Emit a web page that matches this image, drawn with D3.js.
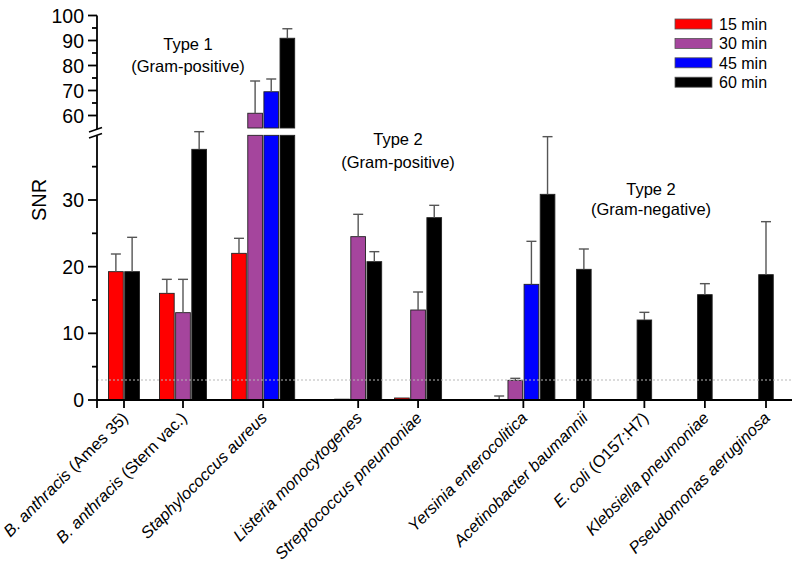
<!DOCTYPE html>
<html>
<head>
<meta charset="utf-8">
<script src="https://cdn.jsdelivr.net/npm/d3@7"></script>
<style>
  html, body { margin: 0; padding: 0; background: #fff; }
  svg { display: block; font-family: "Liberation Sans", Arial, sans-serif; }
</style>
</head>
<body>
<svg id="chart" width="800" height="569"></svg>
<script>
// ---------------- DATA ----------------
const categories = [
  "B. anthracis (Ames 35)", "B. anthracis (Stern vac.)", "Staphylococcus aureus",
  "Listeria monocytogenes", "Streptococcus pneumoniae",
  "Yersinia enterocolitica", "Acetinobacter baumannii", "E. coli (O157:H7)",
  "Klebsiella pneumoniae", "Pseudomonas aeruginosa"
];
const seriesNames = ["15 min", "30 min", "45 min", "60 min"];
const values15 = [19.25, 16.0, 22.0, 0.12, 0.3, 0.05, null, null, null, null];
const values30 = [null, 13.1, 60.9, 24.5, 13.5, 2.95, null, null, null, null];
const values45 = [null, null, 69.5, null, null, 17.35, null, null, null, null];
const values60 = [19.25, 37.6, 90.9, 20.75, 27.35, 30.85, 19.6, 12.0, 15.8, 18.8];
const errors15 = [2.65, 2.1, 2.25, 0, 0, 0.55, null, null, null, null];
const errors30 = [null, 5.0, 12.9, 3.35, 2.7, 0.3, null, null, null, null];
const errors45 = [null, null, 5.1, null, null, 6.45, null, null, null, null];
const errors60 = [5.15, 2.65, 3.8, 1.5, 1.85, 8.65, 3.05, 1.15, 1.65, 7.95];
const lowerTicks = [0, 10, 20, 30];
const lowerMinorTicks = [5, 15, 25, 35];
const upperTicks = [60, 70, 80, 90, 100];
const upperMinorTicks = [65, 75, 85, 95];
const threshold = 3;
const groupLabels = [
  { title: "Type 1", sub: "(Gram-positive)" },
  { title: "Type 2", sub: "(Gram-positive)" },
  { title: "Type 2", sub: "(Gram-negative)" }
];

// ---------------- LAYOUT / STYLE ----------------
const colors = ["#ff0000", "#a5459d", "#0000ff", "#000000"];
const catSlot = [0, 0.975, 2.3, 3.87, 4.86, 6.6, 7.6, 8.6, 9.6, 10.61];
const groupLabelPos = [[188, 49.5, 71.5], [398, 145, 168], [651, 195, 214.5]];
const axisX = 97, axisY = 400, axisRight = 792;
const lowerTopVal = 39.7;   // value where lower segment ends
const upperBottomVal = 55;  // value where upper segment starts

const svg = d3.select("#chart");
const x = d3.scaleLinear().domain([0, 10.61]).range([124, 766]);
const yLow = d3.scaleLinear().domain([0, 40]).range([axisY, 133.33]);
const yUp = d3.scaleLinear().domain([55, 100]).range([128, 15.5]);
const yAny = v => v <= 47 ? yLow(v) : yUp(v);

const allValues = [values15, values30, values45, values60];
const allErrors = [errors15, errors30, errors45, errors60];

// ---------------- BARS ----------------
const barG = svg.append("g");
categories.forEach((cat, ci) => {
  const present = [0, 1, 2, 3].filter(si => allValues[si][ci] !== null);
  const n = present.length;
  const cx = x(catSlot[ci]);
  const band = d3.scaleBand().domain(present).range([cx - n * 8, cx + n * 8]).paddingInner(0.09).paddingOuter(0.03);
  present.forEach(si => {
    const v = allValues[si][ci];
    const bx = band(si), bw = band.bandwidth();
    const segs = v > lowerTopVal
      ? [[yLow(lowerTopVal), yLow(0)], [yUp(v), yUp(upperBottomVal)]]
      : [[yLow(v), yLow(0)]];
    segs.forEach(([top, bot]) => {
      barG.append("rect")
        .attr("x", bx).attr("y", top)
        .attr("width", bw).attr("height", Math.max(0.6, bot - top))
        .attr("fill", colors[si])
        .attr("stroke", "#222").attr("stroke-width", 0.9);
    });
    const e = allErrors[si][ci];
    if (e !== null && e > 0) {
      const cxb = bx + bw / 2;
      const yTop = yAny(v + e);
      const yBase = yAny(v);
      barG.append("line").attr("x1", cxb).attr("x2", cxb).attr("y1", yBase).attr("y2", yTop)
        .attr("stroke", "#555").attr("stroke-width", 1.4);
      barG.append("line").attr("x1", cxb - 5).attr("x2", cxb + 5).attr("y1", yTop).attr("y2", yTop)
        .attr("stroke", "#555").attr("stroke-width", 1.4);
    }
  });
});

// threshold dotted line
svg.append("line")
  .attr("x1", axisX).attr("x2", axisRight)
  .attr("y1", yLow(threshold)).attr("y2", yLow(threshold))
  .attr("stroke", "#b8b8b8").attr("stroke-width", 1.2)
  .attr("stroke-dasharray", "2,2");

// ---------------- AXES ----------------
const axG = svg.append("g").attr("stroke", "#000").attr("stroke-width", 1.8);
// x axis
axG.append("line").attr("x1", axisX).attr("x2", axisRight).attr("y1", axisY).attr("y2", axisY);
axG.append("line").attr("x1", axisX).attr("x2", axisX).attr("y1", axisY).attr("y2", axisY + 8);
categories.forEach((c, ci) => {
  axG.append("line").attr("x1", x(catSlot[ci])).attr("x2", x(catSlot[ci]))
    .attr("y1", axisY).attr("y2", axisY + 8);
});
// y axis lower segment
axG.append("line").attr("x1", axisX).attr("x2", axisX).attr("y1", axisY).attr("y2", 135.5);
// y axis upper segment
axG.append("line").attr("x1", axisX).attr("x2", axisX).attr("y1", yUp(100)).attr("y2", 129);
// break marks
axG.append("line").attr("x1", 89).attr("x2", 102).attr("y1", 132).attr("y2", 127.5).attr("stroke-width", 1.5);
axG.append("line").attr("x1", 89).attr("x2", 102).attr("y1", 138).attr("y2", 133.5).attr("stroke-width", 1.5);

function yTicks(scale, major, minor) {
  major.forEach(t => {
    axG.append("line").attr("x1", axisX - 9).attr("x2", axisX).attr("y1", scale(t)).attr("y2", scale(t));
    svg.append("text").attr("x", 84).attr("y", scale(t)).attr("dy", "0.36em")
      .attr("text-anchor", "end").attr("font-size", 19.5).attr("fill", "#000").text(t);
  });
  minor.forEach(t => {
    axG.append("line").attr("x1", axisX - 5).attr("x2", axisX).attr("y1", scale(t)).attr("y2", scale(t));
  });
}
yTicks(yLow, lowerTicks, lowerMinorTicks);
yTicks(yUp, upperTicks, upperMinorTicks);

// y title
svg.append("text").attr("transform", "translate(46,200) rotate(-90)")
  .attr("text-anchor", "middle").attr("font-size", 20).text("SNR");

// x labels
categories.forEach((c, ci) => {
  const t = svg.append("text")
    .attr("transform", `translate(${x(catSlot[ci]) + 5},419) rotate(-45)`)
    .attr("text-anchor", "end").attr("font-size", 16.5).attr("fill", "#000");
  const p = c.indexOf(" (");
  if (p >= 0) {
    t.append("tspan").attr("font-style", "italic").text(c.slice(0, p));
    t.append("tspan").text(c.slice(p));
  } else {
    t.append("tspan").attr("font-style", "italic").text(c);
  }
});

// group annotations
groupLabels.forEach((g, gi) => {
  const [gx, y1, y2] = groupLabelPos[gi];
  svg.append("text").attr("x", gx).attr("y", y1).attr("text-anchor", "middle")
    .attr("font-size", 16.5).text(g.title);
  svg.append("text").attr("x", gx).attr("y", y2).attr("text-anchor", "middle")
    .attr("font-size", 16.5).text(g.sub);
});

// legend
const leg = svg.append("g");
seriesNames.forEach((s, i) => {
  const cy = 24 + i * 19.4;
  leg.append("rect").attr("x", 675).attr("y", cy - 5).attr("width", 37).attr("height", 10)
    .attr("fill", colors[i]).attr("stroke", "#555").attr("stroke-width", 0.8);
  leg.append("text").attr("x", 719).attr("y", cy).attr("dy", "0.36em")
    .attr("font-size", 16).text(s);
});
</script>
</body>
</html>
